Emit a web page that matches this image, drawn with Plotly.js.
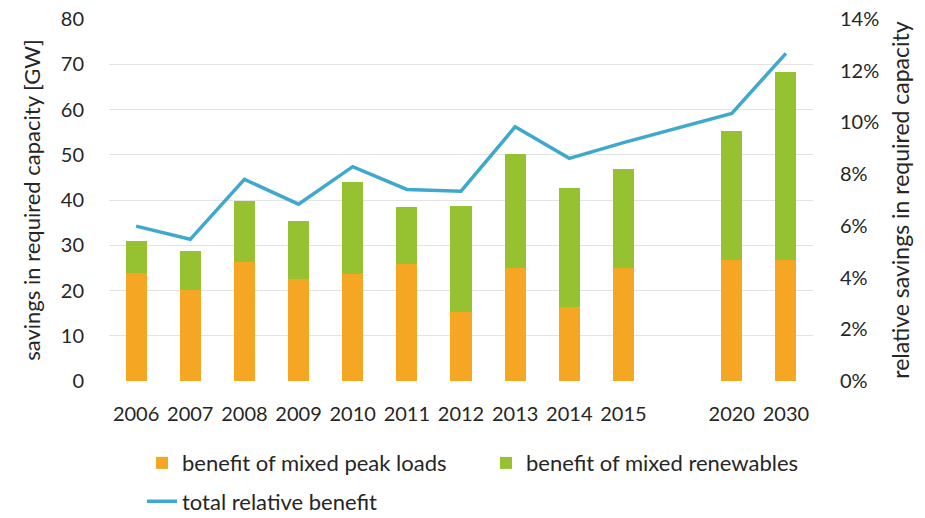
<!DOCTYPE html>
<html>
<head>
<meta charset="utf-8">
<script src="https://cdn.plot.ly/plotly-3.0.1.min.js"></script>
<style>html,body{margin:0;padding:0;background:#fff;}#chart{width:925px;height:518px;}</style>
</head>
<body>
<div id="chart"></div>
<script>
// Data
const years = ['2006','2007','2008','2009','2010','2011','2012','2013','2014','2015','2020','2030'];
const categoryOrder = ['2006','2007','2008','2009','2010','2011','2012','2013','2014','2015',' ','2020','2030'];
const peakLoads = [23.9, 20.1, 26.2, 22.5, 23.6, 25.8, 15.2, 25.0, 16.4, 25.0, 26.7, 26.7];
const renewables = [7.1, 8.7, 13.6, 12.9, 20.4, 12.7, 23.4, 25.2, 26.2, 21.9, 28.5, 41.5];
const relativeBenefit = [0.0599, 0.0548, 0.0780, 0.0684, 0.0829, 0.0741, 0.0734, 0.0983, 0.0861, 0.0922, 0.1035, 0.1267];

const FONT = 'Lato, sans-serif';
const TXT = '#262626';
const FS = 20;

const traces = [
  {type:'bar', name:'benefit of mixed peak loads', x:years, y:peakLoads,
   marker:{color:'#F5A623'}, legend:'legend'},
  {type:'bar', name:'benefit of mixed renewables', x:years, y:renewables,
   marker:{color:'#96C131'}, legend:'legend'},
  {type:'scatter', mode:'lines', name:'total relative benefit', x:years, y:relativeBenefit,
   yaxis:'y2', line:{color:'#3FA9CD', width:3.5}, legend:'legend2'}
];

const legendCommon = {orientation:'h', xref:'container', yref:'container', xanchor:'left', yanchor:'middle',
  font:{family:FONT, size:22, color:TXT}, traceorder:'normal', itemwidth:30,
  entrywidth:299, entrywidthmode:'pixels', bgcolor:'rgba(0,0,0,0)'};

const layout = {
  width:925, height:518,
  margin:{l:109, r:112, t:19, b:137, autoexpand:false},
  barmode:'stack', bargap:0.61,
  paper_bgcolor:'#fff', plot_bgcolor:'#fff',
  font:{family:FONT, size:FS, color:TXT},
  showlegend:true,
  legend:Object.assign({}, legendCommon, {x:0.1535, y:0.106}),
  legend2:Object.assign({}, legendCommon, {x:0.1535, y:0.032}),
  xaxis:{type:'category', categoryorder:'array', categoryarray:categoryOrder,
         showgrid:false, zeroline:false, showline:false, ticks:'outside', ticklen:15, tickcolor:'rgba(0,0,0,0)',
         tickfont:{family:FONT, size:FS, color:TXT}},
  yaxis:{range:[0,80], dtick:10, showgrid:true, gridcolor:'#E3E3E3', gridwidth:1,
         zeroline:false, showline:false, ticks:'outside', ticklen:20, tickcolor:'rgba(0,0,0,0)',
         tickfont:{family:FONT, size:FS, color:TXT},
         title:{text:'savings in required capacity [GW]', font:{family:FONT, size:22, color:TXT}, standoff:14}},
  yaxis2:{range:[0,0.14], dtick:0.02, tickformat:'.0%', overlaying:'y', side:'right',
          showgrid:false, zeroline:false, showline:false, ticks:'outside', ticklen:22, tickcolor:'rgba(0,0,0,0)',
          tickfont:{family:FONT, size:FS, color:TXT},
          title:{text:'relative savings in required capacity', font:{family:FONT, size:23, color:TXT}, standoff:14}}
};

Plotly.newPlot('chart', traces, layout, {displayModeBar:false, staticPlot:true});
</script>
</body>
</html>
